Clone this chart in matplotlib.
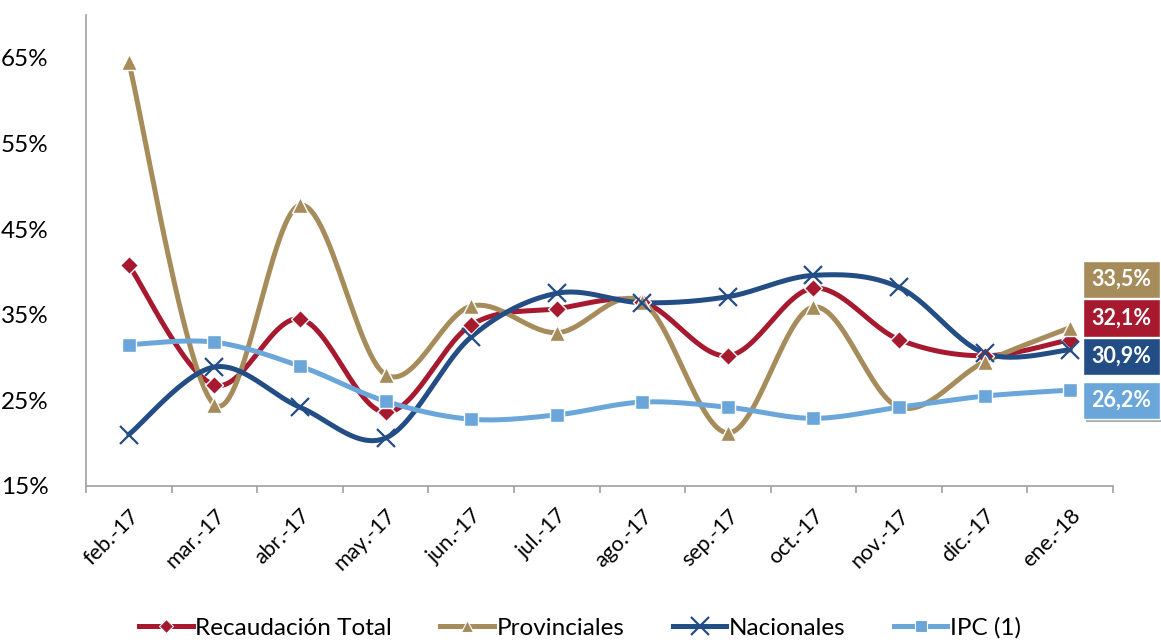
import numpy as np
import matplotlib
matplotlib.use("Agg")
import matplotlib.pyplot as plt
from matplotlib.lines import Line2D
import matplotlib.patheffects as pe

plt.rcParams['font.family'] = ['Lato', 'DejaVu Sans']

categories = ["feb.-17", "mar.-17", "abr.-17", "may.-17", "jun.-17", "jul.-17",
              "ago.-17", "sep.-17", "oct.-17", "nov.-17", "dic.-17", "ene.-18"]
recaudacion = [40.8, 26.8, 34.5, 23.6, 33.8, 35.7, 36.5, 30.2, 38.1, 32.1, 30.2, 32.1]
provinciales = [64.5, 24.5, 47.8, 28.0, 36.0, 32.9, 36.5, 21.2, 35.9, 24.2, 29.5, 33.5]
nacionales = [21.0, 28.9, 24.2, 20.6, 32.4, 37.5, 36.4, 37.1, 39.6, 38.2, 30.5, 30.9]
ipc = [31.5, 31.8, 29.0, 24.9, 22.8, 23.3, 24.8, 24.2, 22.9, 24.2, 25.5, 26.2]
yticks = [15, 25, 35, 45, 55, 65]
end_labels = ["33,5%", "32,1%", "30,9%", "26,2%"]

c_rec = "#A6192E"
c_prov = "#A68B5B"
c_nac = "#234D85"
c_ipc = "#6AA6DA"


def smooth(y, n=30):
    """Catmull-Rom style smoothing (like Excel's smoothed line)."""
    y = np.asarray(y, float)
    x = np.arange(len(y), dtype=float)
    xs, ys = [], []
    for i in range(len(y) - 1):
        p0 = (x[i - 1] if i > 0 else x[i], y[i - 1] if i > 0 else y[i])
        p1 = (x[i], y[i])
        p2 = (x[i + 1], y[i + 1])
        p3 = (x[i + 2], y[i + 2]) if i + 2 < len(y) else (x[i + 1], y[i + 1])
        c1 = (p1[0] + (p2[0] - p0[0]) / 6, p1[1] + (p2[1] - p0[1]) / 6)
        c2 = (p2[0] - (p3[0] - p1[0]) / 6, p2[1] - (p3[1] - p1[1]) / 6)
        t = np.linspace(0, 1, n)
        bx = (1 - t) ** 3 * p1[0] + 3 * (1 - t) ** 2 * t * c1[0] + 3 * (1 - t) * t ** 2 * c2[0] + t ** 3 * p2[0]
        by = (1 - t) ** 3 * p1[1] + 3 * (1 - t) ** 2 * t * c1[1] + 3 * (1 - t) * t ** 2 * c2[1] + t ** 3 * p2[1]
        xs.append(bx)
        ys.append(by)
    return np.concatenate(xs), np.concatenate(ys)


W, H = 1161, 643
fig = plt.figure(figsize=(W / 100, H / 100), dpi=100)
ax = fig.add_axes([86 / W, (H - 486) / H, (1113 - 86) / W, (486 - 15) / H])

series = [
    (recaudacion, c_rec, "D", 9, "Recaudación Total"),
    (provinciales, c_prov, "^", 11, "Provinciales"),
    (nacionales, c_nac, "x", 13, "Nacionales"),
    (ipc, c_ipc, "s", 10, "IPC (1)"),
]
order = [3, 1, 0, 2]
handles = []
LW = 3.6
for idx in order:
    vals, col, mk, ms, lab = series[idx]
    sx, sy = smooth(vals)
    ax.plot(sx, sy, color=col, lw=LW, solid_capstyle="round", zorder=2 + idx * 0.1)
    if mk == "x":
        ax.plot(np.arange(len(vals)), vals, ls="none", marker=mk, ms=ms, mew=1.6,
                color=col, zorder=3 + idx * 0.1)
    else:
        ax.plot(np.arange(len(vals)), vals, ls="none", marker=mk, ms=ms, mec="white",
                mew=1.0, color=col, zorder=3 + idx * 0.1)

for vals, col, mk, ms, lab in series:
    if mk == "x":
        h = Line2D([], [], color=col, lw=LW, marker=mk, ms=ms, mew=1.6, label=lab)
    else:
        h = Line2D([], [], color=col, lw=LW, marker=mk, ms=ms * 0.8, mec="white", mew=0.8, label=lab)
    handles.append(h)

ax.set_xlim(-0.5, len(categories) - 0.5)
ax.set_ylim(15, 70)
ax.set_yticks(yticks)
ax.set_yticklabels([f"{v}%" for v in yticks], fontsize=17.5)
ax.tick_params(axis="y", length=0, pad=27)
ax.set_xticks(np.arange(len(categories)))
ax.set_xticklabels(categories, rotation=45, ha="right", rotation_mode="anchor", fontsize=15.5)
ax.tick_params(axis="x", length=0, pad=14)
ax.set_xticks(np.arange(-0.5, len(categories)), minor=True)
ax.tick_params(axis="x", which="minor", length=5, color="#A0A0A0", width=1.2)
for s in ["top", "right"]:
    ax.spines[s].set_visible(False)
for s in ["left", "bottom"]:
    ax.spines[s].set_color("#A0A0A0")
    ax.spines[s].set_linewidth(1.2)

# end labels
box_y = [39.1, 34.6, 30.1, 25.0]
box_cols = [c_prov, c_rec, c_nac, c_ipc]
for i, (txt, yv, bc) in enumerate(zip(end_labels, box_y, box_cols)):
    t = ax.text(11.6, yv, txt, color="white", fontsize=15.5, fontweight="bold",
                ha="center", va="center", zorder=10, clip_on=False,
                bbox=dict(boxstyle="square,pad=0.38", fc=bc, ec="white", lw=1.0))
    if i == 3:
        t.get_bbox_patch().set_path_effects([pe.SimplePatchShadow(offset=(2, -2), alpha=0.4), pe.Normal()])

fig.legend(handles=handles, loc="center", bbox_to_anchor=(580 / W, 1 - 628 / H), ncol=4,
           frameon=False, fontsize=17.5, handlelength=2.2, handletextpad=0.1, columnspacing=2.0)

fig.savefig("out.png", dpi=100)
